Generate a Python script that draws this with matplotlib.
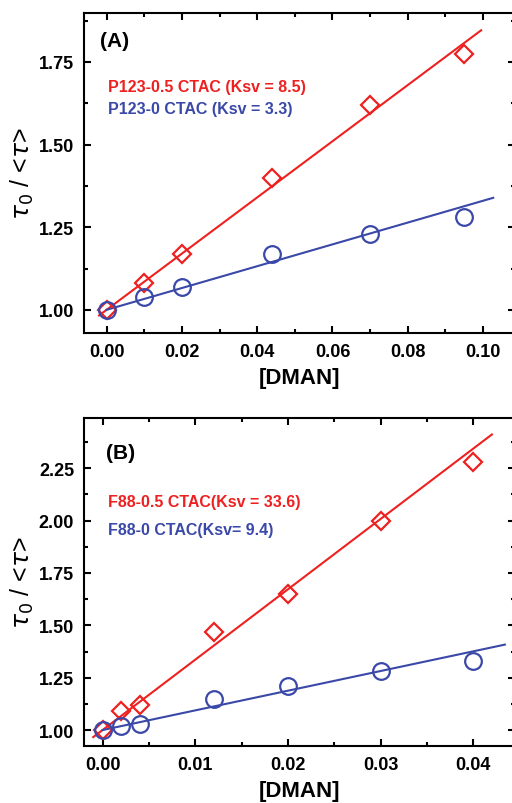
import matplotlib.pyplot as plt
import numpy as np
from matplotlib.ticker import MultipleLocator, FormatStrFormatter

plt.rcParams['font.family'] = ['Liberation Sans', 'DejaVu Sans']
plt.rcParams['mathtext.fontset'] = 'dejavusans'

RED = '#ee2020'
BLUE = '#3a48a8'

# panel A: P123
dman_a = [0.0, 0.01, 0.02, 0.044, 0.07, 0.095]
p123_05 = [1.0, 1.08, 1.17, 1.40, 1.62, 1.775]
p123_0 = [1.0, 1.04, 1.07, 1.17, 1.23, 1.28]
ksv_a = [8.5, 3.3]
fit_range_a = [(-0.002, 0.0995), (0.0, 0.1027)]

# panel B: F88
dman_b = [0.0, 0.002, 0.004, 0.012, 0.02, 0.03, 0.04]
f88_05 = [1.0, 1.09, 1.12, 1.47, 1.65, 2.0, 2.28]
f88_0 = [1.0, 1.02, 1.03, 1.15, 1.21, 1.28, 1.33]
ksv_b = [33.6, 9.4]
fit_range_b = [(-0.001, 0.042), (0.0, 0.0434)]


def style_axes(ax, xmajor, xminor):
    ax.xaxis.set_major_locator(MultipleLocator(xmajor))
    ax.xaxis.set_minor_locator(MultipleLocator(xminor))
    ax.xaxis.set_major_formatter(FormatStrFormatter('%.2f'))
    ax.yaxis.set_major_locator(MultipleLocator(0.25))
    ax.yaxis.set_minor_locator(MultipleLocator(0.125))
    ax.yaxis.set_major_formatter(FormatStrFormatter('%.2f'))
    ax.tick_params(which='both', direction='in', top=True, right=True, width=1.5)
    ax.tick_params(which='major', length=5, labelsize=13, pad=7)
    ax.tick_params(which='minor', length=3)
    for lbl in ax.get_xticklabels() + ax.get_yticklabels():
        lbl.set_fontweight('bold')
    for sp in ax.spines.values():
        sp.set_linewidth(1.5)
    ax.set_xlabel('[DMAN]', fontsize=16, fontweight='bold', labelpad=5)
    ax.set_ylabel(r'$\tau_0$ / <$\tau$>', fontsize=18, labelpad=2)


def draw_panel(ax, x, y_red, y_blue, ksv, fits):
    for yv, k, (x0, x1), color, marker, ms in [
        (y_red, ksv[0], fits[0], RED, 'D', 9.5),
        (y_blue, ksv[1], fits[1], BLUE, 'o', 12),
    ]:
        xf = np.array([x0, x1])
        ax.plot(xf, 1.0 + k * xf, color=color, lw=1.5, zorder=2)
        ax.plot(x, yv, linestyle='none', marker=marker, ms=ms, mfc='none',
                mec=color, mew=1.6, zorder=3)


fig = plt.figure(figsize=(5.12, 8.04), dpi=100)
ax_a = fig.add_axes([0.164, 0.5846, 0.842, 0.398])
ax_b = fig.add_axes([0.164, 0.0709, 0.842, 0.408])

draw_panel(ax_a, dman_a, p123_05, p123_0, ksv_a, fit_range_a)
ax_a.set_xlim(-0.006, 0.1085)
ax_a.set_ylim(0.93, 1.898)
style_axes(ax_a, 0.02, 0.01)
ax_a.text(0.037, 0.945, '(A)', transform=ax_a.transAxes, fontsize=15,
          fontweight='bold', va='top')
ax_a.text(0.056, 0.77, f'P123-0.5 CTAC (Ksv = {ksv_a[0]})', transform=ax_a.transAxes,
          fontsize=11.5, fontweight='bold', color=RED, va='center')
ax_a.text(0.056, 0.70, f'P123-0 CTAC (Ksv = {ksv_a[1]})', transform=ax_a.transAxes,
          fontsize=11.5, fontweight='bold', color=BLUE, va='center')

draw_panel(ax_b, dman_b, f88_05, f88_0, ksv_b, fit_range_b)
ax_b.set_xlim(-0.002, 0.0445)
ax_b.set_ylim(0.924, 2.49)
style_axes(ax_b, 0.01, 0.005)
ax_b.text(0.05, 0.925, '(B)', transform=ax_b.transAxes, fontsize=15,
          fontweight='bold', va='top')
ax_b.text(0.056, 0.745, f'F88-0.5 CTAC(Ksv = {ksv_b[0]})', transform=ax_b.transAxes,
          fontsize=11.5, fontweight='bold', color=RED, va='center')
ax_b.text(0.056, 0.66, f'F88-0 CTAC(Ksv= {ksv_b[1]})', transform=ax_b.transAxes,
          fontsize=11.5, fontweight='bold', color=BLUE, va='center')

fig.savefig('out.png', dpi=100)
